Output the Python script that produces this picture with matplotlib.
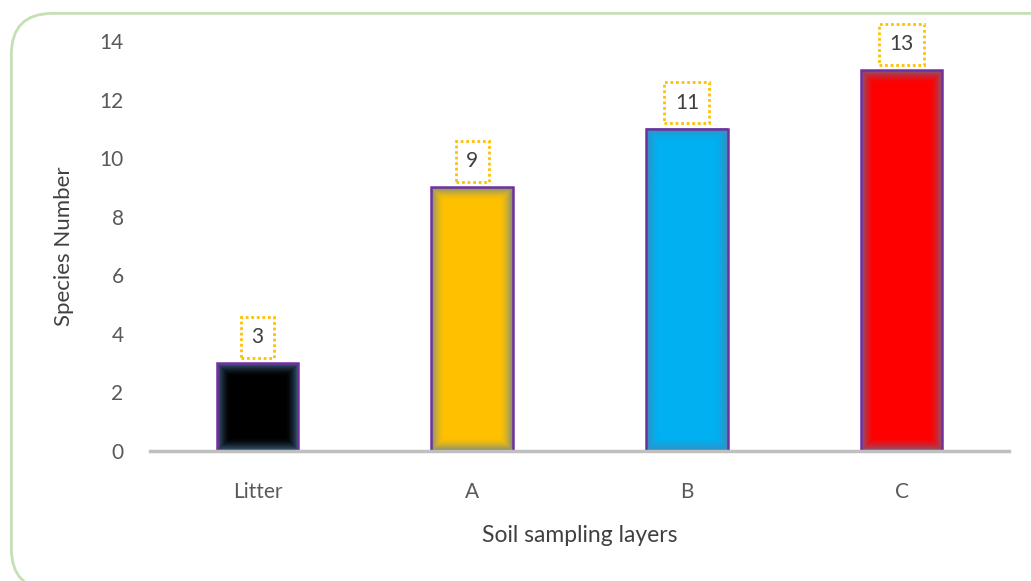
import matplotlib
matplotlib.use("Agg")
import matplotlib.pyplot as plt
from matplotlib.patches import FancyBboxPatch
from matplotlib.colors import to_rgb
import numpy as np

categories = ["Litter", "A", "B", "C"]
values = [3, 9, 11, 13]
colors = ["#000000", "#ffc000", "#00b0f0", "#ff0000"]
yticks = [0, 2, 4, 6, 8, 10, 12, 14]

plt.rcParams['font.family'] = ['Lato', 'DejaVu Sans']
fig = plt.figure(figsize=(10.31, 5.81), dpi=100)
border = FancyBboxPatch((0.011, -0.015), 1.2, 0.992, boxstyle="round,pad=0,rounding_size=0.04",
                        transform=fig.transFigure, facecolor="none", edgecolor="#c5e0b4",
                        linewidth=2, mutation_aspect=1.77, zorder=-1)
fig.patches.append(border)
ax = fig.add_axes([0.1455, 0.2238, 0.8332, 0.7056])
ax.set_facecolor("none")
x = np.arange(len(categories))
bars = ax.bar(x, values, width=0.38, color=colors, edgecolor="none", zorder=3)
ax.set_xlim(-0.5, 3.5)
ax.set_ylim(0, 14)

# soft inner glow on each bar
glow = np.array(to_rgb("#4f7fa8"))
for b in bars:
    x0, y0 = b.get_x(), b.get_y()
    w, h = b.get_width(), b.get_height()
    p0 = ax.transData.transform((x0, y0))
    p1 = ax.transData.transform((x0 + w, y0 + h))
    wpx, hpx = int(round(p1[0] - p0[0])), int(round(p1[1] - p0[1]))
    xx = np.arange(wpx) + 0.5
    yy = np.arange(hpx) + 0.5
    dx = np.minimum(xx, wpx - xx)[None, :]
    dy = np.minimum(yy, hpx - yy)[:, None]
    d = np.minimum(dx, dy)
    a = np.clip(1 - d / 14.0, 0, 1) ** 1.8 * 0.8
    img = np.zeros((hpx, wpx, 4))
    img[..., :3] = glow
    img[..., 3] = a
    ax.imshow(img, extent=(x0, x0 + w, y0, y0 + h), aspect="auto", zorder=3.5,
              interpolation="bilinear")
    ax.bar(b.get_x() + w / 2, h, width=w, color="none", edgecolor="#7030a0",
           linewidth=1.8, zorder=4)
ax.set_xlim(-0.5, 3.5)
ax.set_ylim(0, 14)
ax.set_yticks(yticks)
ax.set_xticks(x)
ax.set_xticklabels(categories)
for s in ["top", "right", "left"]:
    ax.spines[s].set_visible(False)
ax.spines["bottom"].set_color("#bfbfbf")
ax.spines["bottom"].set_linewidth(2.5)
ax.spines["bottom"].set_zorder(5)
ax.tick_params(axis="both", length=0, colors="#595959", labelsize=15)
ax.tick_params(axis="y", pad=19)
ax.tick_params(axis="x", pad=22)
ax.set_ylabel("Species Number", fontsize=16, color="#404040", labelpad=18)
ax.set_xlabel("Soil sampling layers", fontsize=16.5, color="#404040", labelpad=17)
for xi, v in zip(x, values):
    ax.annotate(str(v), (xi, v), xytext=(0, 26), textcoords="offset pixels",
                ha="center", va="center", fontsize=15, color="#404040", zorder=6,
                bbox=dict(boxstyle="square,pad=0.5", facecolor="white", edgecolor="#ffc000",
                          linestyle=(0, (1, 1)), linewidth=2))
fig.savefig("out.png", dpi=100)
